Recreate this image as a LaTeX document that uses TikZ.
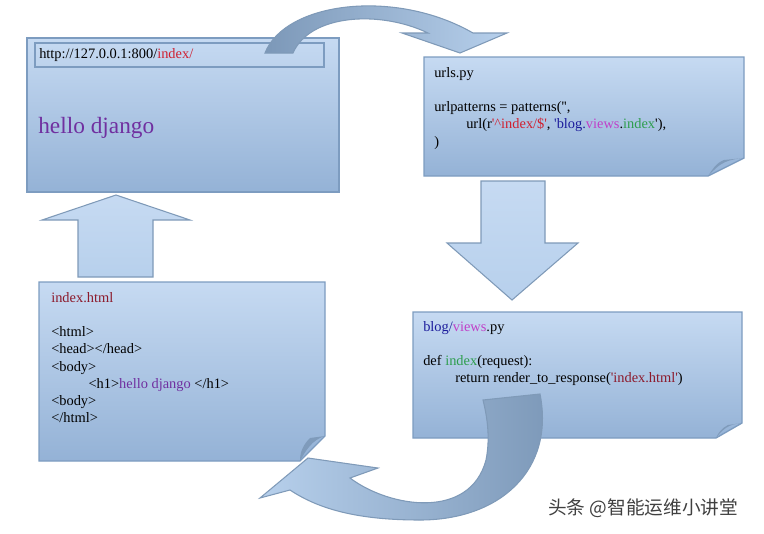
\documentclass[tikz,border=0pt]{standalone}
\usepackage{fontspec}
\setmainfont{Liberation Serif}[Ligatures=TeXOff]
\newfontfamily\cjk{Noto Sans CJK SC}
\begin{document}
\begin{tikzpicture}[x=0.75pt,y=-0.75pt,
  boxst/.style={draw=boxline,line width=1pt,top color=boxtop,bottom color=boxbot},
  arr/.style={draw=arrline,line width=0.8pt},
  curl/.style={fill=curlc,draw=none},
  code/.style={anchor=north west,align=left,inner sep=0pt,font=\fontsize{10.8}{12.9}\selectfont}]
\definecolor{boxtop}{HTML}{C6DAF2}
\definecolor{boxbot}{HTML}{94B2D6}
\definecolor{boxline}{HTML}{7D9CC0}
\definecolor{arrline}{HTML}{7F9AB8}
\definecolor{arrlight}{HTML}{B7D0EC}
\definecolor{arrdark}{HTML}{7C98B8}
\definecolor{curlc}{HTML}{7F9BBB}
\definecolor{cred}{HTML}{D02030}
\definecolor{cblue}{HTML}{1C1C9C}
\definecolor{cmag}{HTML}{C040C8}
\definecolor{cgreen}{HTML}{2E9E4E}
\definecolor{cdred}{HTML}{8C1A2C}
\definecolor{cpurp}{HTML}{7030A0}
\useasboundingbox (0,0) rectangle (764,533);
% browser box
\path[boxst] (27,38) rectangle (339,192);
\draw[draw=boxline,line width=1pt] (35,43) rectangle (324,67);
% top curved arrow
\path[arr,left color=arrdark,right color=arrlight]
  (265,53) .. controls (285,2) and (395,-12) .. (473,33) -- (507,33) -- (460,53) -- (402,33) -- (428,33)
  .. controls (380,10) and (310,14) .. (293,53) -- cycle;
\node[code,anchor=west] (url) at (39,55) {http://127.0.0.1:800/\textcolor{cred}{index/}};
\node[anchor=west,inner sep=0pt,text=cpurp,font=\fontsize{17.5}{20}\selectfont] (hello) at (38,128) {hello django};
% urls box
\path[boxst] (424,57) -- (744,57) -- (744,158) -- (708,176) -- (424,176) -- cycle;
\path[curl] (708,176) .. controls (718,166) and (722,160) .. (744,158) -- (724,160) .. controls (716,163) and (712,170) .. (708,176);
\node[code] (urls) at (434,67) {urls.py\\[12.9pt] urlpatterns = patterns('',\\ \hspace*{24pt}url(r\textcolor{cred}{'\^{}index/\$'}, \textcolor{cblue}{'blog.}\textcolor{cmag}{views}.\textcolor{cgreen}{index}'),\\)};
% down arrow
\path[arr,top color=boxtop,bottom color=arrlight] (481,181) -- (545,181) -- (545,243) -- (578,243) -- (512,300) -- (447,243) -- (481,243) -- cycle;
% up arrow
\path[arr,top color=boxtop,bottom color=arrlight] (78,277) -- (153,277) -- (153,220) -- (190,220) -- (116,195) -- (42,220) -- (78,220) -- cycle;
% index.html box
\path[boxst] (39,282) -- (325,282) -- (325,436) -- (300,461) -- (39,461) -- cycle;
\path[curl] (300,461) .. controls (306,450) and (312,440) .. (325,436) -- (310,438) .. controls (303,445) and (300,452) .. (300,461);
\node[code] (html) at (51,292) {\textcolor{cdred}{index.html}\\[12.9pt] <html>\\ <head></head>\\ <body>\\ \hspace*{28pt}<h1>\textcolor{cpurp}{hello django} </h1>\\ <body>\\ </html>};
% views box
\path[boxst] (413,312) -- (742,312) -- (742,423) -- (716,438) -- (413,438) -- cycle;
\path[curl] (716,438) .. controls (722,430) and (728,424) .. (742,423) -- (728,425) .. controls (722,428) and (718,433) .. (716,438);
\node[code] (views) at (423,321) {\textcolor{cblue}{blog/}\textcolor{cmag}{views}.py\\[12.9pt] def \textcolor{cgreen}{index}(request):\\ \hspace*{24pt}return render\_to\_response(\textcolor{cdred}{'index.html'})};
% bottom curved arrow
\path[arr,left color=arrlight,right color=arrdark]
  (483,400) -- (540,394) .. controls (555,470) and (500,520) .. (420,520)
  .. controls (360,520) and (320,510) .. (290,490) -- (260,498) -- (308,458) -- (378,468) -- (350,478)
  .. controls (390,508) and (470,520) .. (486,460) .. controls (490,440) and (488,420) .. (483,400) -- cycle;
% watermark
\node[anchor=west,inner sep=0pt,text=black!75,font=\cjk\fontsize{14}{16}\selectfont] (wm) at (548,508) {头条 @智能运维小讲堂};
\end{tikzpicture}
\end{document}
